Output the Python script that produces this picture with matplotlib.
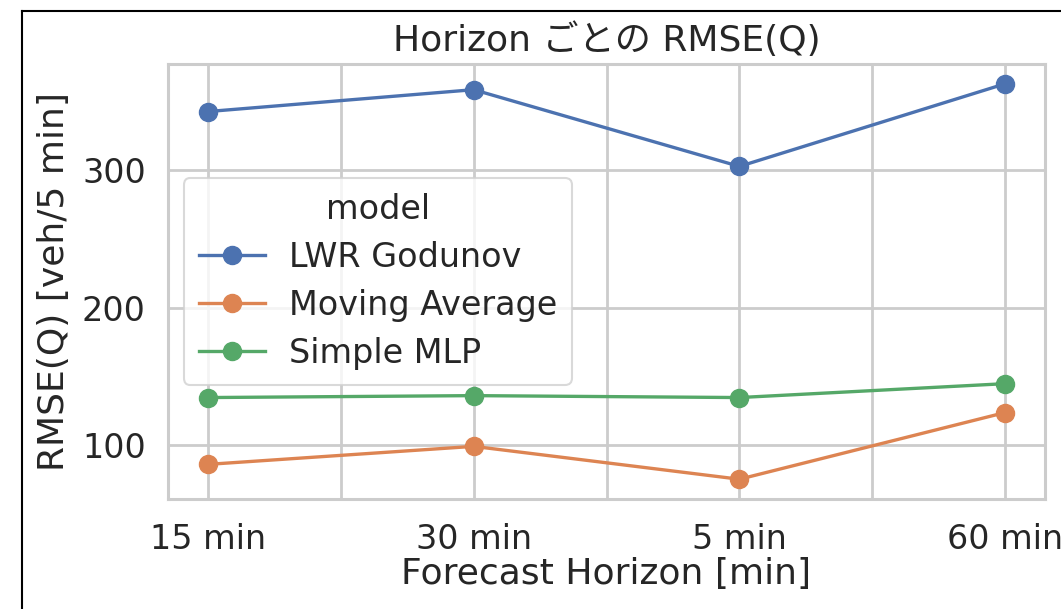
import matplotlib
matplotlib.use("Agg")
import matplotlib.pyplot as plt
from matplotlib.lines import Line2D

plt.rcParams['font.family'] = ['DejaVu Sans', 'Noto Sans CJK JP']

# Data
horizons = ["15 min", "30 min", "5 min", "60 min"]
models = ["LWR Godunov", "Moving Average", "Simple MLP"]
rmse_lwr = [342.8, 358.7, 302.9, 363.0]
rmse_ma = [86.2, 99.3, 75.4, 123.9]
rmse_mlp = [134.8, 136.2, 134.8, 144.9]
colors = ["#4c72b0", "#dd8452", "#55a868"]

FS = 24
FS_LABEL = 26
W, H = 1061, 609
fig = plt.figure(figsize=(W / 100, H / 100), dpi=100)
ax = fig.add_axes([168 / W, 1 - 499 / H, 877 / W, 435 / H])

x = list(range(len(horizons)))
for name, vals, c in zip(models, [rmse_lwr, rmse_ma, rmse_mlp], colors):
    ax.plot(x, vals, color=c, marker="o", linewidth=2.4, markersize=13, label=name)

# Axis styling (seaborn whitegrid look)
ax.set_facecolor("white")
for s in ax.spines.values():
    s.set_color("#cccccc")
    s.set_linewidth(2.2)
ax.set_xticks(x)
ax.set_xticklabels(horizons)
ax.set_xticks([0.5, 1.5, 2.5], minor=True)
ax.set_yticks([100, 200, 300])
ax.grid(True, axis="y", color="#cccccc", linewidth=2)
ax.grid(True, axis="x", which="both", color="#cccccc", linewidth=2)
ax.set_axisbelow(True)
ax.tick_params(axis="both", which="both", length=0, labelsize=FS, colors="#262626")
ax.tick_params(axis="y", pad=16)
ax.tick_params(axis="x", pad=17)

ax.set_xlabel("Forecast Horizon [min]", fontsize=FS_LABEL, color="#262626", labelpad=1)
ax.set_ylabel("RMSE(Q) [veh/5 min]", fontsize=FS_LABEL, color="#262626", labelpad=8)
ax.set_title("Horizon ごとの RMSE(Q)", fontsize=FS_LABEL, color="#262626", pad=9)

leg = ax.legend(title="model", fontsize=FS, title_fontsize=FS, loc="upper left",
                bbox_to_anchor=(0.018, 0.738), borderaxespad=0, frameon=True,
                handlelength=2.0, borderpad=0.45, labelspacing=0.45, handletextpad=0.7)
leg.get_frame().set_edgecolor("#d0d0d0")
leg.get_frame().set_linewidth(1.5)
for t in leg.get_texts():
    t.set_color("#262626")
leg.get_title().set_color("#262626")

# black screenshot border at left and top
fig.add_artist(Line2D([21.5 / W, 21.5 / W], [0, 1 - 10.5 / H], transform=fig.transFigure,
                      color="black", linewidth=1.5))
fig.add_artist(Line2D([21.5 / W, 1], [1 - 10.5 / H, 1 - 10.5 / H], transform=fig.transFigure,
                      color="black", linewidth=1.5))

fig.savefig("out.png", dpi=100)
